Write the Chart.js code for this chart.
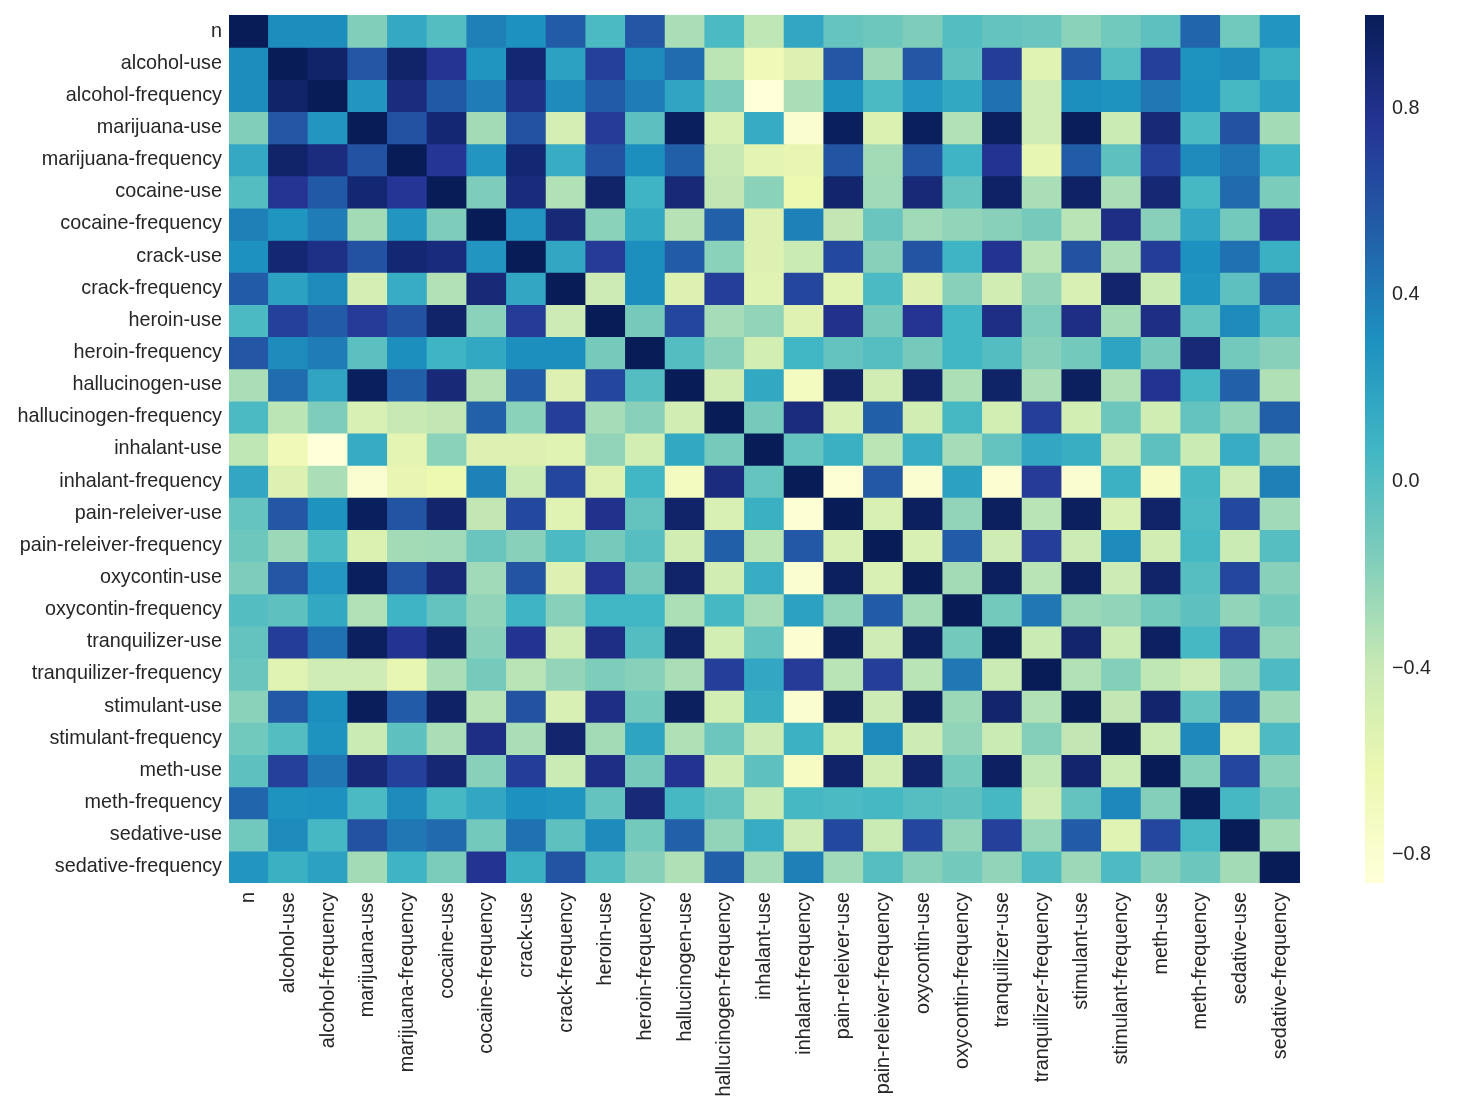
<!DOCTYPE html>
<html>
<head>
<meta charset="utf-8">
<script src="https://cdn.jsdelivr.net/npm/chart.js@4.4.1/dist/chart.umd.min.js"></script>
<style>
  body { margin: 0; background: #fff; }
  canvas { display: block; }
</style>
</head>
<body>
<canvas id="heatmap" width="1471" height="1112"></canvas>
<script>
// Matriz de correlação (uso de drogas por idade) - triângulo superior, linha a linha

const variaveis = [
  "n", "alcohol-use", "alcohol-frequency", "marijuana-use", "marijuana-frequency",
  "cocaine-use", "cocaine-frequency", "crack-use", "crack-frequency", "heroin-use",
  "heroin-frequency", "hallucinogen-use", "hallucinogen-frequency", "inhalant-use",
  "inhalant-frequency", "pain-releiver-use", "pain-releiver-frequency", "oxycontin-use",
  "oxycontin-frequency", "tranquilizer-use", "tranquilizer-frequency", "stimulant-use",
  "stimulant-frequency", "meth-use", "meth-frequency", "sedative-use", "sedative-frequency"
];

// cada linha começa na diagonal
const corrSuperior = [
  [1.0, 0.32, 0.32, -0.17, 0.15, 0.0, 0.38, 0.30, 0.55, 0.03, 0.58, -0.30, 0.03, -0.37, 0.17, -0.07, -0.10, -0.16, 0.0, -0.06, -0.08, -0.20, -0.11, -0.04, 0.50, -0.11, 0.27],
  [1.0, 0.93, 0.58, 0.93, 0.77, 0.28, 0.90, 0.20, 0.70, 0.33, 0.47, -0.36, -0.66, -0.53, 0.58, -0.26, 0.58, -0.04, 0.72, -0.55, 0.57, 0.0, 0.70, 0.29, 0.33, 0.11],
  [1.0, 0.27, 0.85, 0.56, 0.40, 0.82, 0.33, 0.55, 0.40, 0.18, -0.16, -0.86, -0.30, 0.29, 0.03, 0.26, 0.16, 0.45, -0.44, 0.31, 0.29, 0.42, 0.30, 0.05, 0.20],
  [1.0, 0.60, 0.90, -0.28, 0.60, -0.48, 0.73, -0.03, 0.98, -0.50, 0.14, -0.80, 0.98, -0.52, 0.98, -0.33, 0.97, -0.44, 0.99, -0.42, 0.88, 0.03, 0.60, -0.28],
  [1.0, 0.76, 0.27, 0.90, 0.13, 0.60, 0.31, 0.53, -0.40, -0.57, -0.60, 0.59, -0.28, 0.59, 0.08, 0.78, -0.59, 0.55, -0.04, 0.70, 0.33, 0.42, 0.08],
  [1.0, -0.16, 0.86, -0.33, 0.93, 0.08, 0.88, -0.38, -0.20, -0.63, 0.92, -0.27, 0.88, -0.06, 0.95, -0.30, 0.95, -0.30, 0.89, 0.05, 0.48, -0.15],
  [1.0, 0.27, 0.88, -0.20, 0.16, -0.34, 0.52, -0.53, 0.37, -0.38, -0.08, -0.27, -0.22, -0.19, -0.13, -0.35, 0.83, -0.19, 0.17, -0.12, 0.78],
  [1.0, 0.17, 0.73, 0.31, 0.55, -0.20, -0.53, -0.42, 0.65, -0.19, 0.59, 0.08, 0.78, -0.35, 0.60, -0.30, 0.72, 0.30, 0.45, 0.11],
  [1.0, -0.43, 0.31, -0.53, 0.71, -0.55, 0.66, -0.55, 0.03, -0.53, -0.19, -0.46, -0.23, -0.50, 0.92, -0.42, 0.28, -0.04, 0.59],
  [1.0, -0.13, 0.67, -0.29, -0.22, -0.54, 0.80, -0.13, 0.77, 0.07, 0.83, -0.16, 0.83, -0.28, 0.83, -0.06, 0.33, 0.0],
  [1.0, 0.0, -0.19, -0.47, 0.07, -0.06, -0.01, -0.13, 0.07, 0.0, -0.19, -0.12, 0.19, -0.13, 0.88, -0.12, -0.19],
  [1.0, -0.46, 0.16, -0.72, 0.93, -0.46, 0.93, -0.31, 0.94, -0.30, 0.97, -0.32, 0.78, 0.05, 0.52, -0.32],
  [1.0, -0.13, 0.85, -0.50, 0.53, -0.46, 0.05, -0.47, 0.71, -0.47, -0.09, -0.45, -0.06, -0.22, 0.53],
  [1.0, -0.07, 0.11, -0.36, 0.13, -0.29, -0.06, 0.17, 0.12, -0.43, -0.04, -0.42, 0.13, -0.29],
  [1.0, -0.83, 0.57, -0.80, 0.20, -0.82, 0.73, -0.80, 0.10, -0.74, 0.05, -0.44, 0.38],
  [1.0, -0.50, 0.97, -0.22, 0.97, -0.35, 0.97, -0.50, 0.93, 0.03, 0.65, -0.27],
  [1.0, -0.50, 0.55, -0.44, 0.71, -0.43, 0.33, -0.46, 0.05, -0.42, -0.01],
  [1.0, -0.28, 0.97, -0.35, 0.97, -0.43, 0.93, -0.01, 0.66, -0.19],
  [1.0, -0.12, 0.42, -0.25, -0.22, -0.12, -0.04, -0.22, -0.12],
  [1.0, -0.42, 0.92, -0.42, 0.96, 0.05, 0.70, -0.22],
  [1.0, -0.33, -0.18, -0.37, -0.44, -0.24, 0.02],
  [1.0, -0.38, 0.92, -0.06, 0.55, -0.26],
  [1.0, -0.42, 0.35, -0.55, 0.02],
  [1.0, -0.18, 0.67, -0.19],
  [1.0, 0.05, -0.09],
  [1.0, -0.28],
  [1.0]
];

const ticksColorbar = [0.8, 0.4, 0.0, -0.4, -0.8];

// paleta YlGnBu
const paleta = ["#ffffd9", "#edf8b1", "#c7e9b4", "#7fcdbb", "#41b6c4", "#1d91c0", "#225ea8", "#253494", "#081d58"];

const FONTE = "'Liberation Sans', Arial, sans-serif";
const COR_TEXTO = "#262626";
const TAM_FONTE = 19.8;

function valor(i, j) {
  return i <= j ? corrSuperior[i][j - i] : corrSuperior[j][i - j];
}

const todos = [];
variaveis.forEach((_, i) => variaveis.forEach((_, j) => todos.push(valor(i, j))));
const vmin = Math.min(...todos);
const vmax = Math.max(...todos);

function hexParaRgb(h) {
  return [parseInt(h.slice(1, 3), 16), parseInt(h.slice(3, 5), 16), parseInt(h.slice(5, 7), 16)];
}
const paletaRgb = paleta.map(hexParaRgb);

function corPara(v) {
  let t = (v - vmin) / (vmax - vmin);
  t = Math.max(0, Math.min(1, t));
  const pos = t * (paletaRgb.length - 1);
  const k = Math.min(Math.floor(pos), paletaRgb.length - 2);
  const f = pos - k;
  const a = paletaRgb[k], b = paletaRgb[k + 1];
  const c = a.map((x, n) => Math.round(x + (b[n] - x) * f));
  return `rgb(${c[0]},${c[1]},${c[2]})`;
}

// uma série por linha da matriz: barras flutuantes [linha, linha+1]
const datasets = variaveis.map((_, i) => ({
  label: variaveis[i],
  data: variaveis.map(() => [i, i + 1]),
  backgroundColor: variaveis.map((_, j) => corPara(valor(i, j))),
  borderWidth: 0,
  inflateAmount: 0.6,
  grouped: false,
  barPercentage: 1,
  categoryPercentage: 1
}));

// barra de cores desenhada ao lado
const colorbarPlugin = {
  id: "colorbar",
  afterDraw(chart) {
    const ctx = chart.ctx;
    const area = chart.chartArea;
    const x0 = 1365, largura = 19;
    const topo = area.top, base = area.bottom;
    const altura = base - topo;
    ctx.save();
    for (let y = 0; y < altura; y++) {
      const v = vmax - (y + 0.5) / altura * (vmax - vmin);
      ctx.fillStyle = corPara(v);
      ctx.fillRect(x0, topo + y, largura, 1.2);
    }
    ctx.fillStyle = COR_TEXTO;
    ctx.font = `${TAM_FONTE}px ${FONTE}`;
    ctx.textAlign = "left";
    ctx.textBaseline = "middle";
    ticksColorbar.forEach(t => {
      const y = topo + (vmax - t) / (vmax - vmin) * altura;
      const txt = t.toFixed(1).replace("-", "\u2212");
      ctx.fillText(txt, x0 + largura + 8, y);
    });
    ctx.restore();
  }
};

new Chart(document.getElementById("heatmap"), {
  type: "bar",
  data: { labels: variaveis, datasets },
  options: {
    responsive: false,
    animation: false,
    devicePixelRatio: 1,
    layout: { padding: { left: 0, top: 15, right: 171, bottom: 0 } },
    plugins: {
      legend: { display: false },
      tooltip: { enabled: false }
    },
    scales: {
      x: {
        type: "category",
        grid: { display: false, drawTicks: false },
        border: { display: false },
        afterFit: s => { s.height = 1112 - 883; s.paddingLeft = 0; s.paddingRight = 0; },
        ticks: {
          color: COR_TEXTO,
          font: { family: FONTE, size: TAM_FONTE },
          minRotation: 90,
          maxRotation: 90,
          autoSkip: false,
          padding: 9
        }
      },
      y: {
        type: "linear",
        min: 0,
        max: variaveis.length,
        reverse: true,
        grid: { display: false, drawTicks: false },
        border: { display: false },
        afterFit: s => { s.width = 229; s.paddingTop = 0; s.paddingBottom = 0; },
        afterBuildTicks: s => { s.ticks = variaveis.map((_, i) => ({ value: i + 0.5 })); },
        ticks: {
          color: COR_TEXTO,
          font: { family: FONTE, size: TAM_FONTE },
          autoSkip: false,
          padding: 7,
          callback: v => variaveis[Math.floor(v)]
        }
      }
    }
  },
  plugins: [colorbarPlugin]
});
</script>
</body>
</html>
